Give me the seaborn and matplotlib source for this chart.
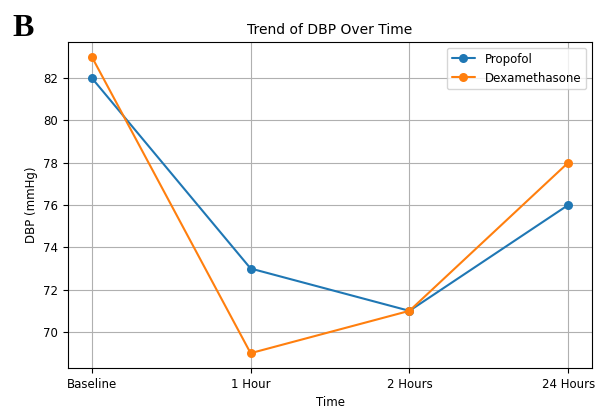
import pandas as pd
import matplotlib.pyplot as plt
import seaborn as sns

# DBP readings per time point
time_points = ['Baseline', '1 Hour', '2 Hours', '24 Hours']
propofol = [82, 73, 71, 76]
dexamethasone = [83, 69, 71, 78]

df = pd.DataFrame({
    'Time': time_points * 2,
    'DBP': propofol + dexamethasone,
    'Group': ['Propofol'] * 4 + ['Dexamethasone'] * 4,
})

sns.set_style('ticks')
plt.rcParams['font.family'] = ['DejaVu Sans']
plt.rcParams['text.color'] = 'black'
plt.rcParams['axes.labelcolor'] = 'black'
plt.rcParams['xtick.color'] = 'black'
plt.rcParams['ytick.color'] = 'black'

fig = plt.figure(figsize=(5.98, 4.08), dpi=100)
ax = fig.add_axes([68 / 598, 1 - 368 / 408, (592 - 68) / 598, (368 - 42) / 408])

sns.lineplot(data=df, x='Time', y='DBP', hue='Group', marker='o',
             markeredgewidth=0, markersize=6.5, palette=['#1f77b4', '#ff7f0e'],
             sort=False, ax=ax)

ax.set_yticks([70, 72, 74, 76, 78, 80, 82])
ax.tick_params(labelsize=8.5)
ax.grid(True, color='#b0b0b0', linewidth=0.8)
for s in ax.spines.values():
    s.set_color('black')
    s.set_linewidth(0.8)
ax.set_title('Trend of DBP Over Time', fontsize=10)
ax.set_xlabel('Time', fontsize=8.5)
ax.set_ylabel('DBP (mmHg)', fontsize=8.5)
ax.legend(title=None, fontsize=8.5, loc='upper right')

fig.text(12 / 598, 1 - 36 / 408, 'B', fontsize=23, fontweight='bold',
         family='Liberation Serif', color='black')

fig.savefig('out.png', dpi=100)
